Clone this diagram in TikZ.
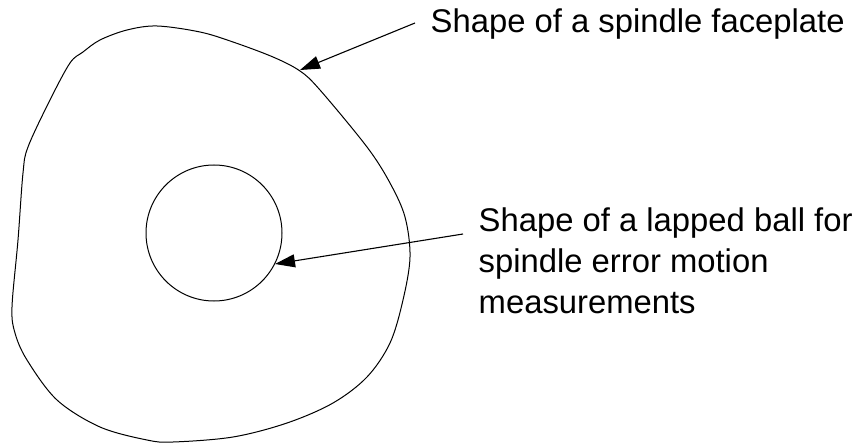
\documentclass[tikz,border=0pt]{standalone}
\usepackage{fontspec}
\setmainfont{Liberation Sans}
\usetikzlibrary{arrows.meta}
\begin{document}
\begin{tikzpicture}[x=1pt,y=-1pt,
  outline/.style={line width=1pt, black},
  pointer/.style={line width=1.1pt, -{Triangle[length=20pt,width=13pt]}},
  label/.style={inner sep=0pt, font=\fontsize{32.8pt}{40.7pt}\selectfont, align=left}]
\useasboundingbox (0,0) rectangle (861,443);
% faceplate outline
\draw[outline] plot[smooth cycle, tension=0.55] coordinates {
 (157,26) (200,32) (233,42) (273,57) (300,71) (320,90) (367,147) (390,183)
 (405,217) (410,257) (403,300) (390,343) (367,377) (333,403) (287,423)
 (233,437) (173,442) (147,440) (100,427) (57,400) (27,360) (15,333)
 (12,307) (18,240) (23,173) (28,147) (50,100) (70,63) (83,52) (100,40) (127,30)};
% lapped ball
\node[outline, draw, circle, minimum size=136pt, inner sep=0pt] (ball) at (214,233) {};
% labels
\node[label, anchor=base west] (t1) at (430.5,33) {Shape of a spindle faceplate};
\node[label, anchor=base west] (t2) at (478.5,313) {Shape of a lapped ball for\\spindle error motion\\measurements};
% connectors
\coordinate (s1) at (415,23);
\coordinate (e1) at (300,70);
\coordinate (s2) at (463,234);
\coordinate (e2) at (275,264);
\draw[pointer] (s1) -- (e1);
\draw[pointer] (s2) -- (e2);
\end{tikzpicture}
\end{document}
